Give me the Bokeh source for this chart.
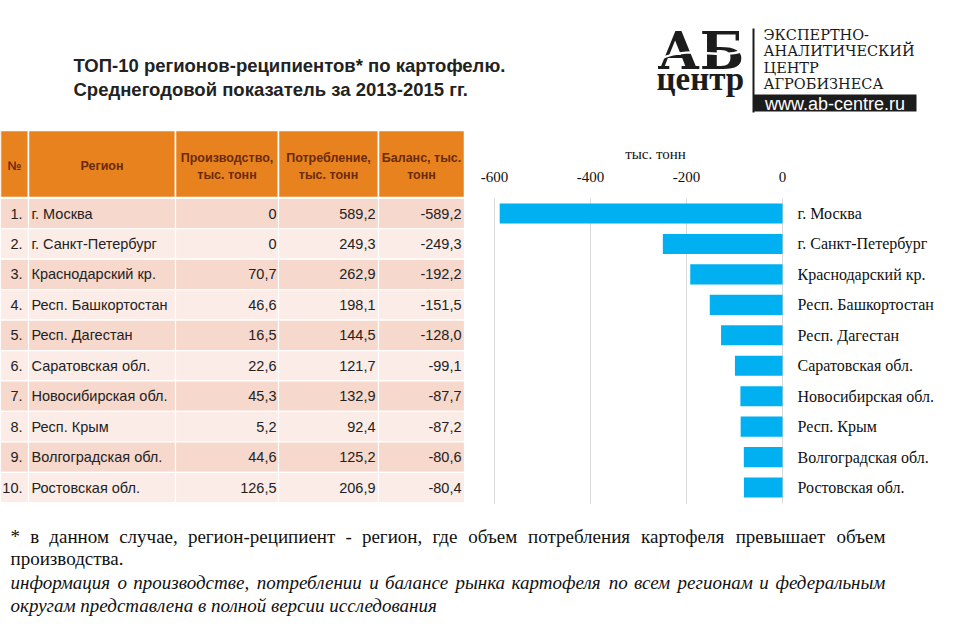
from bokeh.plotting import figure
from bokeh.layouts import column, row
from bokeh.models import Range1d, FixedTicker, LinearAxis
from bokeh.core.properties import value
from bokeh.embed import file_html
from bokeh.resources import INLINE

# ---------------- data ----------------
title_lines = ["ТОП-10 регионов-реципиентов* по картофелю.",
               "Среднегодовой показатель за 2013-2015 гг."]
header_single = ["№", "Регион"]
header_line1 = ["Производство,", "Потребление,", "Баланс, тыс."]
header_line2 = ["тыс. тонн", "тыс. тонн", "тонн"]
regions = ["г. Москва", "г. Санкт-Петербург", "Краснодарский кр.", "Респ. Башкортостан",
           "Респ. Дагестан", "Саратовская обл.", "Новосибирская обл.", "Респ. Крым",
           "Волгоградская обл.", "Ростовская обл."]
production = [0, 0, 70.7, 46.6, 16.5, 22.6, 45.3, 5.2, 44.6, 126.5]
consumption = [589.2, 249.3, 262.9, 198.1, 144.5, 121.7, 132.9, 92.4, 125.2, 206.9]
balance = [-589.2, -249.3, -192.2, -151.5, -128.0, -99.1, -87.7, -87.2, -80.6, -80.4]
axis_ticks = [-600, -400, -200, 0]
axis_title = "тыс. тонн"
logo_big = "АБ"
logo_small = "центр"
logo_lines = ["ЭКСПЕРТНО-", "АНАЛИТИЧЕСКИЙ", "ЦЕНТР", "АГРОБИЗНЕСА"]
logo_url = "www.ab-centre.ru"
foot_line1 = "* в данном случае, регион-реципиент - регион, где объем потребления картофеля превышает объем"
foot_line2 = "производства."
foot_line3 = "информация о производстве, потреблении и балансе рынка картофеля по всем регионам и федеральным"
foot_line4 = "округам представлена в полной версии исследования"

# ---------------- styles / layout ----------------
ORANGE = "#E8821E"
HEAD_TXT = "#6A2A0C"
ROW_A = "#F6D8CD"
ROW_B = "#FBECE7"
BAR = "#00B0F0"
INK = "#1c1c1c"
SANS = value("Liberation Sans")
SERIF = value("Liberation Serif")

TOP_H, MID_H, BOT_H = 128, 387, 115
TABLE_W, BAR_W = 470, 488


def fmt(v):
    return "0" if v == 0 else f"{v:.1f}".replace(".", ",")


def blank(w, h, xr, yr):
    f = figure(width=w, height=h, x_range=xr, y_range=yr, output_backend="svg",
               toolbar_location=None, min_border=0,
               x_axis_location=None, y_axis_location=None)
    f.grid.visible = False
    f.outline_line_color = None
    return f


# ---------------- top: title + logo ----------------
top = blank(958, TOP_H, Range1d(0, 958), Range1d(TOP_H, 0))
top.text(x=[73, 73], y=[65, 89], text=title_lines, text_font=SANS,
         text_font_style="bold", text_font_size="18.5px", text_color="#222222",
         text_baseline="middle")
top.text(x=[657], y=[50], text=[logo_big], text_font=value("DejaVu Serif"),
         text_font_style="bold", text_font_size="52px", text_color=INK,
         text_baseline="middle")
# leaf swoosh across the letters
top.bezier(x0=[660], y0=[58], x1=[744], y1=[50], cx0=[695], cy0=[44], cx1=[715], cy1=[60],
           line_color="white", line_width=2.5)
top.text(x=[656], y=[78], text=[logo_small], text_font=SERIF, text_font_style="bold",
         text_font_size="33px", text_color=INK, text_baseline="middle")
top.segment(x0=[753], y0=[28], x1=[753], y1=[112], line_color=INK, line_width=2)
top.text(x=[763] * 4, y=[34, 50, 67, 83], text=logo_lines, text_font=value("DejaVu Serif"),
         text_font_size="14.5px", text_color="#1a1a1a", text_baseline="middle")
top.quad(left=[753], right=[916], top=[94], bottom=[111], fill_color=INK, line_color=None)
top.text(x=[834.5], y=[103], text=[logo_url], text_font=SANS, text_font_size="18px",
         text_color="white", text_align="center", text_baseline="middle")

# ---------------- table ----------------
P = 30.45            # row pitch in px
R0 = 213             # centre of first row (ref px)


def ry(px):
    return (px - R0) / P


col_edges = [0, 28, 175, 278, 378, 464]
col_c = [(col_edges[j] + col_edges[j + 1]) / 2 for j in range(5)]
col_w = [col_edges[j + 1] - col_edges[j] for j in range(5)]

table = blank(TABLE_W, MID_H, Range1d(0, TABLE_W), Range1d(ry(515), ry(128)))
table.rect(x=col_c, y=[ry(163.5)] * 5, width=col_w, height=[(197 - 130) / P] * 5,
           fill_color=ORANGE, line_color="white", line_width=1.5)
hdr = dict(text_font=SANS, text_font_style="bold", text_font_size="12.5px",
           text_color=HEAD_TXT, text_align="center", text_baseline="middle")
table.text(x=col_c[:2], y=[ry(165)] * 2, text=header_single, **hdr)
table.text(x=col_c[2:], y=[ry(157)] * 3, text=header_line1, **hdr)
table.text(x=col_c[2:], y=[ry(174)] * 3, text=header_line2, **hdr)

n = len(regions)
cx, cy, cw, cc = [], [], [], []
for i in range(n):
    for j in range(5):
        cx.append(col_c[j]); cy.append(i); cw.append(col_w[j])
        cc.append(ROW_A if i % 2 == 0 else ROW_B)
table.rect(x=cx, y=cy, width=cw, height=1, fill_color=cc, line_color="white", line_width=1.2)
rows = list(range(n))
body = dict(text_font=SANS, text_font_size="14.5px", text_color="#222222", text_baseline="middle")
table.text(x=[22] * n, y=rows, text=[f"{i + 1}." for i in rows], text_align="right", **body)
table.text(x=[31] * n, y=rows, text=regions, text_align="left", **body)
table.text(x=[276] * n, y=rows, text=[fmt(v) for v in production], text_align="right", **body)
table.text(x=[375] * n, y=rows, text=[fmt(v) for v in consumption], text_align="right", **body)
table.text(x=[461] * n, y=rows, text=[fmt(v) for v in balance], text_align="right", **body)

# ---------------- bar chart ----------------
K = (782 - 494) / 600.0          # px per unit
FR_L, FR_R = 478, 786            # frame edges (ref px)
bar = figure(width=BAR_W, height=MID_H, output_backend="svg", toolbar_location=None,
             x_range=Range1d((FR_L - 782) / K, (FR_R - 782) / K),
             y_range=Range1d(ry(515), ry(128)),
             x_axis_location=None, y_axis_location="right",
             min_border_left=FR_L - 470, min_border_right=958 - FR_R,
             min_border_top=0, min_border_bottom=0)
bar.outline_line_color = None
bar.grid.visible = False
bar.segment(x0=axis_ticks, x1=axis_ticks, y0=[ry(198)] * 4, y1=[ry(503)] * 4,
            line_color="#D9D9D9", line_width=1)
bar.hbar(y=rows, left=balance, right=0, height=0.66, fill_color=BAR, line_color=None)

xax = LinearAxis(fixed_location=ry(197), ticker=FixedTicker(ticks=axis_ticks),
                 major_label_overrides={t: str(t) for t in axis_ticks})
xax.axis_line_color = None
xax.major_tick_line_color = None
xax.minor_tick_line_color = None
xax.major_label_text_font = "Liberation Serif"
xax.major_label_text_font_size = "15px"
xax.major_label_text_color = "#111111"
xax.major_label_standoff = 10
bar.add_layout(xax, "above")

yax = bar.yaxis[0]
yax.ticker = FixedTicker(ticks=rows)
yax.major_label_overrides = {i: regions[i] for i in rows}
yax.axis_line_color = None
yax.major_tick_line_color = None
yax.minor_tick_line_color = None
yax.major_tick_out = 0
yax.major_tick_in = 0
yax.major_label_text_font = "Liberation Serif"
yax.major_label_text_font_size = "16px"
yax.major_label_text_color = "#111111"
yax.major_label_standoff = 11

bar.text(x=[(655 - 782) / K], y=[ry(153)], text=[axis_title], text_font=SERIF,
         text_font_size="15px", text_color="#111111", text_align="center",
         text_baseline="middle")

# ---------------- footnotes ----------------
foot = blank(958, BOT_H, Range1d(0, 958), Range1d(515 + BOT_H, 515))

EM = {"а": .444, "б": .5, "в": .472, "г": .41, "д": .5, "е": .444, "ж": .723, "з": .395,
      "и": .535, "й": .535, "к": .486, "л": .5, "м": .628, "н": .535, "о": .5, "п": .535,
      "р": .5, "с": .444, "т": .437, "у": .5, "ф": .648, "х": .5, "ц": .535, "ч": .5,
      "ш": .77, "щ": .77, "ъ": .535, "ы": .696, "ь": .474, "э": .439, "ю": .74, "я": .486,
      ",": .25, ".": .25, "-": .333, "*": .5}
EM_I = {"а": .5, "б": .5, "в": .46, "г": .4, "д": .5, "е": .44, "ж": .64, "з": .4,
        "и": .5, "й": .5, "к": .45, "л": .5, "м": .63, "н": .5, "о": .5, "п": .5,
        "р": .5, "с": .44, "т": .72, "у": .45, "ф": .68, "х": .45, "ц": .5, "ч": .5,
        "ш": .74, "щ": .74, "ъ": .5, "ы": .68, "ь": .45, "э": .44, "ю": .7, "я": .5,
        ",": .25, ".": .25, "-": .333}


def justify(f, line, x0, x1, y, size, em, **kw):
    words = line.split(" ")
    widths = [sum(em.get(c, .5) for c in w) * size for w in words]
    gap = (x1 - x0 - sum(widths)) / (len(words) - 1)
    xs, pos = [], x0
    for w in widths:
        xs.append(pos)
        pos += w + gap
    f.text(x=xs[:-1], y=[y] * (len(words) - 1), text=words[:-1], text_align="left", **kw)
    f.text(x=[x1], y=[y], text=words[-1:], text_align="right", **kw)


FS = 19
fn = dict(text_font=SERIF, text_font_size=f"{FS}px", text_color="#111111", text_baseline="middle")
justify(foot, foot_line1, 10, 885, 536, FS, EM, **fn)
foot.text(x=[10], y=[558], text=[foot_line2], text_align="left", **fn)
fi = dict(fn, text_font_style="italic")
justify(foot, foot_line3, 10, 885, 582, FS, EM_I, **fi)
foot.text(x=[10], y=[605], text=[foot_line4], text_align="left", **fi)

layout = column(top, row(table, bar), foot)
open("out.html", "w").write(file_html(layout, INLINE))
